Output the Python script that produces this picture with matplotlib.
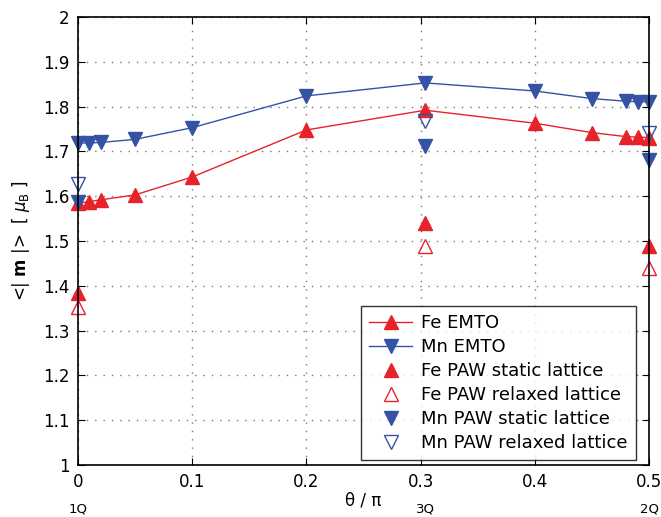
import matplotlib.pyplot as plt
import numpy as np

theta = [0.0, 0.01, 0.02, 0.05, 0.1, 0.2, 0.304, 0.4, 0.45, 0.48, 0.49, 0.5]
fe_emto = [1.585, 1.588, 1.592, 1.603, 1.643, 1.748, 1.792, 1.763, 1.742, 1.733, 1.732, 1.731]
mn_emto = [1.719, 1.719, 1.720, 1.727, 1.753, 1.824, 1.853, 1.835, 1.818, 1.812, 1.811, 1.811]

paw_theta = [0.0, 0.304, 0.5]
fe_paw_static = [1.385, 1.540, 1.488]
fe_paw_relaxed = [1.352, 1.490, 1.440]
mn_paw_static = [1.588, 1.712, 1.681]
mn_paw_relaxed = [1.628, 1.768, 1.742]

red = '#e8222b'
blue = '#3453a4'

fig = plt.figure(figsize=(6.61, 5.17), dpi=100)
ax = fig.add_axes([0.118, 0.1006, 0.864, 0.8664])

ax.plot(theta, fe_emto, '-^', color=red, mfc=red, mec=red, ms=10, lw=1, label='Fe EMTO', clip_on=False)
ax.plot(theta, mn_emto, '-v', color=blue, mfc=blue, mec=blue, ms=10, lw=1, label='Mn EMTO', clip_on=False)
ax.plot(paw_theta, fe_paw_static, '^', color=red, ms=10, ls='none', label='Fe PAW static lattice', clip_on=False)
ax.plot(paw_theta, fe_paw_relaxed, '^', mfc='none', mec=red, ms=10, ls='none', label='Fe PAW relaxed lattice', clip_on=False)
ax.plot(paw_theta, mn_paw_static, 'v', color=blue, ms=10, ls='none', label='Mn PAW static lattice', clip_on=False)
ax.plot(paw_theta, mn_paw_relaxed, 'v', mfc='none', mec=blue, ms=10, ls='none', label='Mn PAW relaxed lattice', clip_on=False)

ax.set_xlim(0, 0.5)
ax.set_ylim(1, 2)
ax.set_xticks(np.arange(0, 0.51, 0.1))
ax.set_xticklabels(['0', '0.1', '0.2', '0.3', '0.4', '0.5'])
ax.set_yticks(np.arange(1, 2.01, 0.1))
ax.set_yticklabels(['1', '1.1', '1.2', '1.3', '1.4', '1.5', '1.6', '1.7', '1.8', '1.9', '2'])
ax.tick_params(direction='in', top=True, right=True, labelsize=12, length=5, pad=6)
ax.grid(True, ls=(0, (1, 5)), color='#777777', lw=1.0)
for s in ax.spines.values():
    s.set_linewidth(1.2)

ax.set_xlabel('θ / π', fontsize=12, labelpad=0)
ax.set_ylabel(r'<| $\mathbf{m}$ |>  [ $\mu_\mathrm{B}$ ]', fontsize=12, labelpad=8)

for xq, lab in [(0.0, '1Q'), (0.304, '3Q'), (0.5, '2Q')]:
    ax.text(xq, -0.083, lab, transform=ax.get_xaxis_transform(), ha='center', va='top', fontsize=9.5)

leg = ax.legend(loc='lower right', bbox_to_anchor=(0.977, 0.011), fontsize=13, frameon=True,
                fancybox=False, edgecolor='black', borderaxespad=0, handlelength=2.4,
                labelspacing=0.33, borderpad=0.45, handletextpad=0.5, markerscale=0.95)
leg.get_frame().set_linewidth(1.0)

fig.savefig('out.png', dpi=100)
